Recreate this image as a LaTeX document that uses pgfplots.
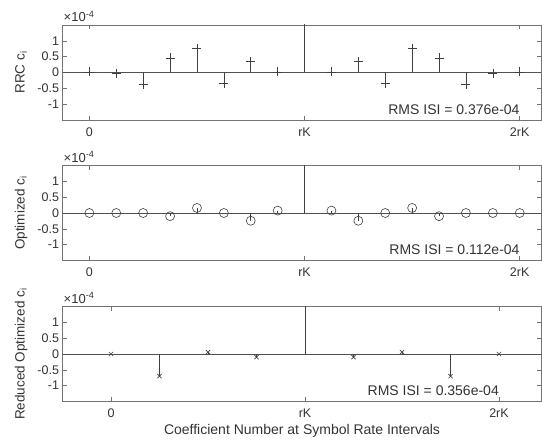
\documentclass[border=0pt]{standalone}
\usepackage{fontspec}
\setmainfont{Liberation Sans}
\usepackage{pgfplots}
\pgfplotsset{compat=1.18}
\definecolor{axgray}{gray}{0.45}
\definecolor{txtgray}{gray}{0.2}
\definecolor{stemc}{gray}{0.25}
\pgfplotsset{
  panel/.style={
    scale only axis, width=479pt, height=95pt, anchor=south west,
    xmin=-1, ymin=-1.5, ymax=1.5,
    clip mode=individual,
    ytick={-1,-0.5,0,0.5,1}, yticklabels={-1,-0.5,0,0.5,1},
    axis line style={axgray, line width=0.6pt},
    tick style={axgray, line width=0.6pt},
    major tick length=4.5pt, tick align=inside,
    ticklabel style={font=\fontsize{12.5}{14}\selectfont, text=txtgray},
    xticklabel style={yshift=-4pt},
    ylabel style={font=\fontsize{13.5}{15}\selectfont, text=txtgray,
      at={(axis description cs:-0.0866,0.5)}, anchor=center},
    xlabel style={font=\fontsize{14}{16}\selectfont, text=txtgray,
      at={(axis description cs:0.5,-0.308)}, anchor=center},
  },
  stemp/.style={ycomb, stemc, line width=0.6pt, mark options={solid, stemc, line width=0.6pt}},
}
\tikzset{
  annot/.style={anchor=east, inner sep=0, text=txtgray, font=\fontsize{14}{15}\selectfont},
  expo/.style={anchor=south west, inner sep=0, xshift=1pt, yshift=3pt, text=txtgray,
    font=\fontsize{13}{14}\selectfont},
}
\begin{document}
\begin{tikzpicture}
\path (0,0) rectangle (542pt,442pt);
% Panel 1: RRC
\begin{axis}[panel, at={(62.5pt,322pt)}, xmax=16.81,
  xtick={0,8,16}, xticklabels={0,rK,2rK}, ylabel={RRC c\textsubscript{i}}]
\addplot[axgray!70!black, line width=0.6pt, forget plot] coordinates {(-1,0) (16.81,0)};
\addplot[stemp, mark=+, mark size=4.5pt] coordinates {
(0,0.02)(1,-0.02)(2,-0.38)(3,0.46)(4,0.75)(5,-0.35)(6,0.34)(7,0.02)
(9,0.02)(10,0.34)(11,-0.35)(12,0.75)(13,0.46)(14,-0.38)(15,-0.02)(16,0.02)};
\addplot[ycomb, stemc, line width=0.6pt, no marks] coordinates {(8,100)};
\node[expo] at (rel axis cs:0,1) {×10\textsuperscript{-4}};
\node[annot] at (axis cs:16,-1.17) {RMS ISI = 0.376e-04};
\end{axis}
% Panel 2: Optimized
\begin{axis}[panel, at={(62.5pt,181.5pt)}, xmax=16.81,
  xtick={0,8,16}, xticklabels={0,rK,2rK}, ylabel={Optimized c\textsubscript{i}}]
\addplot[axgray!70!black, line width=0.6pt, forget plot] coordinates {(-1,0) (16.81,0)};
\addplot[stemp, mark=o, mark size=4.5pt] coordinates {
(0,0)(1,0)(2,0)(3,-0.1)(4,0.16)(5,0)(6,-0.245)(7,0.075)
(9,0.075)(10,-0.245)(11,0)(12,0.16)(13,-0.1)(14,0)(15,0)(16,0)};
\addplot[ycomb, stemc, line width=0.6pt, no marks] coordinates {(8,100)};
\node[expo] at (rel axis cs:0,1) {×10\textsuperscript{-4}};
\node[annot] at (axis cs:16,-1.17) {RMS ISI = 0.112e-04};
\end{axis}
% Panel 3: Reduced Optimized
\begin{axis}[panel, at={(62.5pt,40.5pt)}, xmax=8.876,
  xtick={0,4,8}, xticklabels={0,rK,2rK}, ylabel={Reduced Optimized c\textsubscript{i}},
  xlabel={Coefficient Number at Symbol Rate Intervals}]
\addplot[axgray!70!black, line width=0.6pt, forget plot] coordinates {(-1,0) (8.876,0)};
\addplot[stemp, mark=x, mark size=3pt] coordinates {
(0,0)(1,-0.70)(2,0.06)(3,-0.1)(5,-0.1)(6,0.06)(7,-0.70)(8,0)};
\addplot[ycomb, stemc, line width=0.6pt, no marks] coordinates {(4,100)};
\node[expo] at (rel axis cs:0,1) {×10\textsuperscript{-4}};
\node[annot] at (axis cs:8,-1.17) {RMS ISI = 0.356e-04};
\end{axis}
\end{tikzpicture}
\end{document}
